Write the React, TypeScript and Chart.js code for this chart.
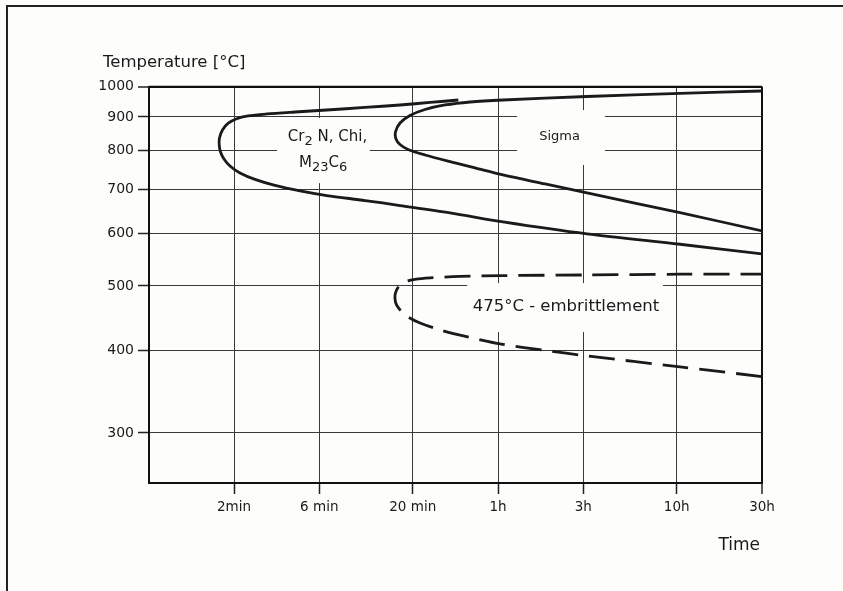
import React, { useEffect, useRef } from 'react';
import { Chart, registerables } from 'chart.js';

Chart.register(...registerables);

// ---- Data (time in minutes, temperature in °C) ----
const X_TICK_VALUES = [2, 6, 20, 60, 180, 600, 1800];
const X_TICK_LABELS = ['2min', '6 min', '20 min', '1h', '3h', '10h', '30h'];
const Y_TICK_VALUES = [300, 400, 500, 600, 700, 800, 900, 1000];

// Cr2N, Chi, M23C6 precipitation C-curve
const CR2N_TIME = [36.0, 25.0, 16.98, 10.82, 6.6, 4.39, 3.05, 2.395, 2.052, 1.851, 1.724, 1.659, 1.654, 1.681, 1.758, 1.899, 2.161, 2.621, 3.392, 4.68, 6.6, 10.82, 16.98, 32.34, 64.0, 189.0, 626, 1800];
const CR2N_TEMP = [954.8, 946.6, 938.4, 930.3, 922.2, 915.8, 909.5, 903.2, 893.8, 880.0, 860.3, 836.8, 816.4, 797.0, 777.8, 759.1, 740.8, 724.3, 709.3, 695.9, 684.9, 673.1, 661.5, 644.8, 624.8, 599.3, 578.1, 559.0];

// Sigma phase C-curve
const SIGMA_TIME = [1800, 626, 189.0, 64.0, 41.84, 30.32, 23.43, 19.31, 16.98, 16.02, 16.12, 16.98, 18.83, 23.43, 31.12, 44.64, 64.0, 110.0, 189.0, 626, 1800];
const SIGMA_TEMP = [985.2, 977.3, 966.5, 954.8, 948.2, 938.4, 923.8, 904.7, 881.5, 854.4, 833.9, 817.9, 803.8, 788.6, 772.5, 753.9, 735.8, 713.0, 691.0, 645.2, 605.6];

// 475 °C embrittlement C-curve (dashed)
const EMB_TIME = [1800, 626, 189.0, 64.0, 36.8, 25.0, 20.6, 18.1, 16.65, 16.02, 15.92, 16.23, 17.2, 18.83, 21.98, 28.43, 41.84, 64.0, 110.0, 189.0, 626, 1800];
const EMB_TEMP = [520.9, 520.9, 519.6, 518.4, 517.0, 514.3, 511.6, 507.2, 498.4, 488.1, 478.0, 468.2, 458.5, 449.0, 439.7, 429.2, 418.1, 408.1, 399.6, 392.1, 377.4, 364.9];

const X_MIN = 0.669;
const X_MAX = 1800;
const Y_MIN = 252;
const Y_MAX = 1000;

// ---- Layout / styling (annotation placement in data units) ----
const FONT = '"DejaVu Sans", sans-serif';
const INK = '#1a1a1a';
const PAPER = '#fdfdfb';
// [xFrom, xTo, yFrom, yTo] blank areas behind the labels
const GAPS = [
  [3.48, 11.5, 715, 897],
  [76.7, 238, 761.6, 922],
  [40.3, 503, 426, 505],
];

type Part = { t: string; sub?: boolean };

function drawRich(ctx: CanvasRenderingContext2D, parts: Part[], cx: number, cy: number, size: number, subSize: number) {
  const fontOf = (p: Part) => `${p.sub ? subSize : size}px ${FONT}`;
  let total = 0;
  for (const p of parts) {
    ctx.font = fontOf(p);
    total += ctx.measureText(p.t).width;
  }
  let x = cx - total / 2;
  ctx.textAlign = 'left';
  ctx.textBaseline = 'middle';
  for (const p of parts) {
    ctx.font = fontOf(p);
    ctx.fillText(p.t, x, p.sub ? cy + 5 : cy);
    x += ctx.measureText(p.t).width;
  }
}

export default function App() {
  const ref = useRef<HTMLCanvasElement>(null);

  useEffect(() => {
    const canvas = ref.current;
    if (!canvas) return;
    const toPts = (xs: number[], ys: number[]) => xs.map((x, i) => ({ x, y: ys[i] }));

    const annotate = {
      id: 'annotate',
      beforeDraw(chart: any) {
        const { ctx, width, height } = chart;
        ctx.save();
        ctx.fillStyle = PAPER;
        ctx.fillRect(0, 0, width, height);
        ctx.strokeStyle = '#222';
        ctx.lineWidth = 2;
        ctx.beginPath();
        ctx.moveTo(7, height);
        ctx.lineTo(7, 6);
        ctx.lineTo(width, 6);
        ctx.stroke();
        ctx.restore();
      },
      beforeDatasetsDraw(chart: any) {
        const { ctx, scales, chartArea } = chart;
        const xs = scales.x, ys = scales.y;
        ctx.save();
        ctx.fillStyle = PAPER;
        for (const g of GAPS) {
          const x0 = xs.getPixelForValue(g[0]);
          const x1 = xs.getPixelForValue(g[1]);
          const y0 = ys.getPixelForValue(g[3]);
          const y1 = ys.getPixelForValue(g[2]);
          ctx.fillRect(x0, y0, x1 - x0, y1 - y0);
        }
        ctx.strokeStyle = '#111';
        ctx.lineWidth = 2;
        ctx.beginPath();
        ctx.moveTo(chartArea.right, chartArea.top);
        ctx.lineTo(chartArea.right, chartArea.bottom);
        ctx.moveTo(chartArea.left, chartArea.top);
        ctx.lineTo(chartArea.right, chartArea.top);
        ctx.stroke();
        ctx.restore();
      },
      afterDatasetsDraw(chart: any) {
        const { ctx, scales, chartArea } = chart;
        const xs = scales.x, ys = scales.y;
        ctx.save();
        ctx.fillStyle = INK;
        // axis titles
        ctx.font = `16.5px ${FONT}`;
        ctx.textAlign = 'left';
        ctx.textBaseline = 'middle';
        ctx.fillText('Temperature [°C]', chartArea.left - 46, chartArea.top - 24);
        ctx.font = `17px ${FONT}`;
        ctx.textAlign = 'right';
        ctx.fillText('Time', chartArea.right - 2, chartArea.bottom + 63);
        // region labels
        drawRich(ctx, [{ t: 'Cr' }, { t: '2', sub: true }, { t: ' N, Chi,' }],
          xs.getPixelForValue(6.67), ys.getPixelForValue(840), 15, 13);
        drawRich(ctx, [{ t: 'M' }, { t: '23', sub: true }, { t: 'C' }, { t: '6', sub: true }],
          xs.getPixelForValue(6.3), ys.getPixelForValue(767), 15, 13);
        drawRich(ctx, [{ t: 'Sigma' }], xs.getPixelForValue(132.6), ys.getPixelForValue(840), 13, 13);
        drawRich(ctx, [{ t: '475°C - embrittlement' }], xs.getPixelForValue(144), ys.getPixelForValue(465), 16.5, 16.5);
        ctx.restore();
      },
    };

    const gridColor = (edge: number) => (c: any) => (c.tick && c.tick.value === edge ? '#111' : '#3a3a3a');
    const gridWidth = (edge: number) => (c: any) => (c.tick && c.tick.value === edge ? 2 : 1);

    const chart = new Chart(canvas, {
      type: 'scatter',
      data: {
        datasets: [
          {
            label: 'Cr2N, Chi, M23C6',
            data: toPts(CR2N_TIME, CR2N_TEMP),
            showLine: true,
            borderColor: INK,
            borderWidth: 2.8,
            pointRadius: 0,
            tension: 0.3,
          },
          {
            label: 'Sigma',
            data: toPts(SIGMA_TIME, SIGMA_TEMP),
            showLine: true,
            borderColor: INK,
            borderWidth: 2.8,
            pointRadius: 0,
            tension: 0.3,
          },
          {
            label: '475°C-embrittlement',
            data: toPts(EMB_TIME, EMB_TEMP),
            showLine: true,
            borderColor: INK,
            borderWidth: 2.8,
            borderDash: [26, 11],
            borderDashOffset: 4.5,
            pointRadius: 0,
            tension: 0.3,
          },
        ],
      },
      options: {
        animation: false,
        responsive: false,
        layout: { padding: { top: 86.7, right: 81, bottom: 0, left: 0 } },
        plugins: {
          legend: { display: false },
          tooltip: { enabled: false },
        },
        scales: {
          x: {
            type: 'logarithmic',
            min: X_MIN,
            max: X_MAX,
            bounds: 'data',
            afterBuildTicks: (s: any) => {
              s.ticks = X_TICK_VALUES.map((v) => ({ value: v }));
            },
            afterFit: (s: any) => {
              s.height = 108;
            },
            ticks: {
              autoSkip: false,
              maxRotation: 0,
              padding: 5,
              color: INK,
              font: { family: FONT, size: 13.5 },
              callback: (_v: any, i: number) => X_TICK_LABELS[i],
            },
            grid: {
              color: gridColor(X_MAX),
              lineWidth: gridWidth(X_MAX),
              tickLength: 11,
              tickColor: '#222',
              tickWidth: 1.5,
            },
            border: { color: '#111', width: 2 },
          },
          y: {
            type: 'logarithmic',
            min: Y_MIN,
            max: Y_MAX,
            bounds: 'data',
            afterBuildTicks: (s: any) => {
              s.ticks = Y_TICK_VALUES.map((v) => ({ value: v }));
            },
            afterFit: (s: any) => {
              s.width = 149;
            },
            ticks: {
              autoSkip: false,
              padding: 4,
              color: INK,
              font: { family: FONT, size: 14 },
              callback: (v: any) => String(v),
            },
            grid: {
              color: gridColor(Y_MAX),
              lineWidth: gridWidth(Y_MAX),
              tickLength: 11,
              tickColor: '#222',
              tickWidth: 1.5,
            },
            border: { color: '#111', width: 2 },
          },
        },
      },
      plugins: [annotate],
    } as any);

    return () => chart.destroy();
  }, []);

  return (
    <div style={{ position: 'absolute', left: 0, top: 0, width: 843, height: 591 }}>
      <canvas ref={ref} width={843} height={591} style={{ display: 'block' }} />
    </div>
  );
}
